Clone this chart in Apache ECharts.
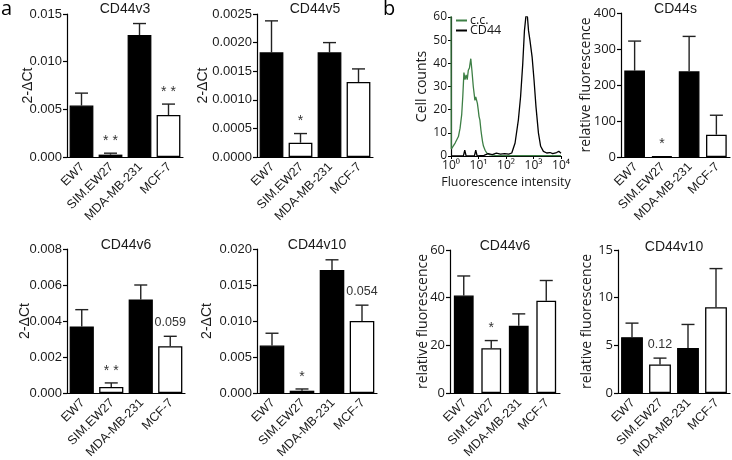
<!DOCTYPE html>
<html>
<head>
<meta charset="utf-8">
<script src="https://cdn.jsdelivr.net/npm/echarts@6/dist/echarts.min.js"></script>
<style>html,body{margin:0;padding:0;background:#fff}#c{width:732px;height:460px}</style>
</head>
<body>
<div id="c"></div>
<script>
// ---------- DATA ----------
const categories = ['EW7', 'SIM.EW27', 'MDA-MB-231', 'MCF-7'];

// panel a: qPCR 2^-dCt (mean and upper end of error bar)
const v3Mean = [0.0054, 0.00025, 0.0128, 0.0044];
const v3Top  = [0.0067, 0.0004, 0.0140, 0.00555];
const v3Notes = ['', '* *', '', '* *'];

const v5Mean = [0.00183, 0.00025, 0.00183, 0.00131];
const v5Top  = [0.00238, 0.00041, 0.00200, 0.00154];
const v5Notes = ['', '*', '', ''];

const v6Mean = [0.0037, 0.00033, 0.0052, 0.0026];
const v6Top  = [0.00463, 0.00056, 0.0060, 0.00315];
const v6Notes = ['', '* *', '', '0.059'];

const v10Mean = [0.0066, 0.00032, 0.0171, 0.0100];
const v10Top  = [0.0083, 0.00056, 0.0185, 0.0122];
const v10Notes = ['', '*', '', '0.054'];

// panel b: relative fluorescence
const sMean = [240, 2, 238, 62];
const sTop  = [322, 2, 335, 116];
const sNotes = ['', '*', '', ''];

const fv6Mean = [40.9, 18.8, 28.2, 38.7];
const fv6Top  = [49.1, 22.0, 33.2, 47.2];
const fv6Notes = ['', '*', '', ''];

const fv10Mean = [5.86, 3.0, 4.71, 9.0];
const fv10Top  = [7.33, 3.66, 7.19, 13.05];
const fv10Notes = ['', '0.12', '', ''];

const filledBars = [true, false, true, false];

// flow cytometry histogram (x = log10 fluorescence intensity)
const ccLog   = [0, 0.01, 0.08, 0.15, 0.21, 0.27, 0.33, 0.39, 0.43, 0.47, 0.51, 0.55, 0.59, 0.63, 0.67, 0.72, 0.76, 0.81, 0.84, 0.87, 0.90, 0.93, 0.96, 0.99, 1.02, 1.05, 1.09, 1.12, 1.15, 1.18, 1.24, 1.30, 1.42, 1.60, 2.0, 2.5, 3.0, 3.5, 4.0];
const ccCount = [62, 3, 3.5, 5.6, 7, 8.4, 12, 18, 26, 36, 33, 35, 33, 37, 38, 42, 37, 30, 27, 24, 25.5, 25, 22.7, 20, 17, 15.6, 11, 8.4, 6, 4.3, 2.5, 1.3, 0.5, 0.3, 0.2, 0.2, 0.2, 0.2, 0.2];
const cd44Log   = [0, 0.30, 0.45, 0.50, 0.55, 0.85, 0.90, 0.95, 1.20, 1.35, 1.50, 1.65, 1.80, 1.95, 2.10, 2.21, 2.33, 2.45, 2.53, 2.61, 2.67, 2.73, 2.78, 2.82, 2.87, 2.95, 3.02, 3.09, 3.18, 3.26, 3.36, 3.48, 3.60, 3.70, 3.84, 3.92, 4.0];
const cd44Count = [0, 0, 0, 2.5, 0, 0, 2.5, 0, 0.3, 1, 0.6, 1.2, 0.8, 1, 0.8, 1.3, 5.6, 15.6, 25.6, 40, 54, 61, 60, 54, 50, 42.7, 32.7, 21.3, 9.9, 4.2, 2, 1.3, 1.5, 1, 1.5, 2, 1.2];
const histXTicks = ['10⁰', '10¹', '10²', '10³', '10⁴'];

// ---------- LAYOUT ----------
const ARIAL = 'Liberation Sans, Arial, sans-serif';
const OPEN = 'Open Sans, Liberation Sans, sans-serif';
const panels = [
  {title:'CD44v3', mean:v3Mean, top:v3Top, notes:v3Notes, max:0.015, interval:0.005, dec:3, name:'2-ΔCt', nameGap:32, nameFont:ARIAL, tickFont:ARIAL,
   grid:{left:67, top:14, width:116, height:143}, gap:'18%', titleTop:2},
  {title:'CD44v5', mean:v5Mean, top:v5Top, notes:v5Notes, max:0.0025, interval:0.0005, dec:4, name:'2-ΔCt', nameGap:47, nameFont:ARIAL, tickFont:ARIAL,
   grid:{left:257, top:14, width:116, height:143}, gap:'18%', titleTop:2},
  {title:'CD44s', mean:sMean, top:sTop, notes:sNotes, max:400, interval:100, dec:0, name:'relative fluorescence', nameGap:28, nameFont:OPEN, tickFont:OPEN,
   grid:{left:621, top:13, width:109, height:144}, gap:'24%', titleTop:2},
  {title:'CD44v6', mean:v6Mean, top:v6Top, notes:v6Notes, max:0.008, interval:0.002, dec:3, name:'2-ΔCt', nameGap:35, nameFont:ARIAL, tickFont:ARIAL,
   grid:{left:67, top:249, width:118, height:144}, gap:'18%', titleTop:238},
  {title:'CD44v10', mean:v10Mean, top:v10Top, notes:v10Notes, max:0.020, interval:0.005, dec:3, name:'2-ΔCt', nameGap:43, nameFont:ARIAL, tickFont:ARIAL,
   grid:{left:257, top:249, width:120, height:144}, gap:'18%', titleTop:238},
  {title:'CD44v6', mean:fv6Mean, top:fv6Top, notes:fv6Notes, max:60, interval:20, dec:0, name:'relative fluorescence', nameGap:20, nameFont:OPEN, tickFont:OPEN,
   grid:{left:450, top:250, width:110, height:143}, gap:'28%', titleTop:239},
  {title:'CD44v10', mean:fv10Mean, top:fv10Top, notes:fv10Notes, max:15, interval:5, dec:0, name:'relative fluorescence', nameGap:24, nameFont:OPEN, tickFont:OPEN,
   grid:{left:618, top:250, width:112, height:143}, gap:'22%', titleTop:240}
];
const histGrid = {left:451, top:17, width:110, height:139};

const INK = '#1a1a1a';
const grids = [], xAxes = [], yAxes = [], series = [], titles = [];

panels.forEach((p, i) => {
  grids.push(Object.assign({containLabel:false}, p.grid));
  xAxes.push({
    type:'category', gridIndex:i, data:categories,
    axisLine:{lineStyle:{color:'#000', width:1.2}},
    axisTick:{show:false},
    axisLabel:{show:false}
  });
  yAxes.push({
    type:'value', gridIndex:i, min:0, max:p.max, interval:p.interval,
    splitLine:{show:false},
    axisLine:{show:true, lineStyle:{color:'#000', width:1.2}},
    axisTick:{show:true, length:4, lineStyle:{color:'#000', width:1.2}},
    axisLabel:{margin:5, fontSize:13, fontFamily:p.tickFont, color:INK, formatter:v => v.toFixed(p.dec)},
    name:p.name, nameLocation:'middle', nameGap:p.nameGap, nameMoveOverlap:false,
    nameTextStyle:{fontSize:14, fontFamily:p.nameFont, color:INK}
  });
  series.push({
    type:'bar', xAxisIndex:i, yAxisIndex:i, data:p.mean, barCategoryGap:p.gap, z:2,
    itemStyle:{
      color:params => filledBars[params.dataIndex] ? '#000' : '#fff',
      borderColor:'#000', borderWidth:1.3
    },
    emphasis:{disabled:true}
  });
  // error bars
  series.push({
    type:'custom', xAxisIndex:i, yAxisIndex:i, z:1,
    data:categories.map((c, k) => [k, p.mean[k], p.top[k]]),
    renderItem:(params, api) => {
      const k = api.value(0);
      if (api.value(2) <= api.value(1)) return null;
      const b = api.coord([k, api.value(1)]);
      const t = api.coord([k, api.value(2)]);
      const hw = 6.5;
      const st = {stroke:'#222', lineWidth:1.4};
      return {type:'group', children:[
        {type:'line', shape:{x1:b[0], y1:b[1], x2:t[0], y2:t[1]}, style:st},
        {type:'line', shape:{x1:t[0]-hw, y1:t[1], x2:t[0]+hw, y2:t[1]}, style:st}
      ]};
    }
  });
  // significance notes
  series.push({
    type:'custom', xAxisIndex:i, yAxisIndex:i, z:3, silent:true,
    data:categories.map((c, k) => [k, p.top[k]]),
    renderItem:(params, api) => {
      const txt = p.notes[params.dataIndex];
      if (!txt) return null;
      const t = api.coord([api.value(0), api.value(1)]);
      const star = txt.indexOf('*') >= 0;
      return {type:'text', x:t[0], y:t[1] - (star ? 12 : 14),
        style:{text:txt, fill:'#333', font:(star ? '14px ' : '12.5px ') + ARIAL, align:'center', verticalAlign:'middle'}};
    }
  });
  // rotated category labels
  series.push({
    type:'custom', xAxisIndex:i, yAxisIndex:i, z:3, silent:true, clip:false,
    data:categories.map((c, k) => [k, 0]),
    renderItem:(params, api) => {
      const k = api.value(0);
      const a = api.coord([k, 0]);
      return {type:'text', x:a[0] + 1, y:a[1] + 8, rotation:Math.PI / 4,
        style:{text:categories[k], fill:INK, font:'12.5px ' + ARIAL, align:'right', verticalAlign:'middle'}};
    }
  });
  titles.push({text:p.title, left:p.grid.left + p.grid.width/2, top:p.titleTop, textAlign:'center', padding:0,
    textStyle:{fontSize:14, fontWeight:'normal', fontFamily:ARIAL, color:INK}});
});

// histogram panel
const hi = panels.length;
grids.push(histGrid);
xAxes.push({
  type:'value', gridIndex:hi, min:0, max:4, interval:1,
  splitLine:{show:false},
  axisLine:{lineStyle:{color:'#000', width:1.2}},
  axisTick:{show:true, length:3, lineStyle:{color:'#000'}},
  axisLabel:{margin:4, fontSize:12, fontFamily:OPEN, color:INK, formatter:v => histXTicks[Math.round(v)]},
  name:'Fluorescence intensity', nameLocation:'middle', nameGap:20, nameMoveOverlap:false,
  nameTextStyle:{fontSize:12.5, fontFamily:OPEN, color:INK}
});
yAxes.push({
  type:'value', gridIndex:hi, min:0, max:60, interval:10,
  splitLine:{show:false},
  axisLine:{show:true, lineStyle:{color:'#000', width:1.2}},
  axisTick:{show:true, length:3, lineStyle:{color:'#000'}},
  axisLabel:{margin:4, fontSize:12, fontFamily:OPEN, color:INK},
  name:'Cell counts', nameLocation:'middle', nameGap:22, nameMoveOverlap:false,
  nameTextStyle:{fontSize:14, fontFamily:OPEN, color:INK}
});
series.push({
  type:'line', name:'c.c.', xAxisIndex:hi, yAxisIndex:hi, showSymbol:false, clip:true, z:3,
  data:ccLog.map((x, k) => [x, ccCount[k]]),
  lineStyle:{color:'#3d7f45', width:1.3}, itemStyle:{color:'#3d7f45'}
});
series.push({
  type:'line', name:'CD44', xAxisIndex:hi, yAxisIndex:hi, showSymbol:false, clip:true, z:4,
  data:cd44Log.map((x, k) => [x, cd44Count[k]]),
  lineStyle:{color:'#000', width:1.3}, itemStyle:{color:'#000'}
});

titles.push({text:'a', left:1, top:-1, padding:0, textStyle:{fontSize:20, fontWeight:'normal', fontFamily:OPEN, color:'#000'}});
titles.push({text:'b', left:383, top:-1, padding:0, textStyle:{fontSize:20, fontWeight:'normal', fontFamily:OPEN, color:'#000'}});

const chart = echarts.init(document.getElementById('c'), null, {renderer:'canvas'});
chart.setOption({
  backgroundColor:'#fff',
  animation:false,
  title:titles,
  legend:{
    data:['c.c.', 'CD44'], orient:'vertical', left:456, top:14, padding:0,
    itemWidth:11, itemHeight:2, itemGap:-3, icon:'rect',
    textStyle:{fontSize:12.5, fontFamily:OPEN, color:INK, padding:[0,0,0,-2]}
  },
  grid:grids, xAxis:xAxes, yAxis:yAxes, series:series
});
</script>
</body>
</html>
